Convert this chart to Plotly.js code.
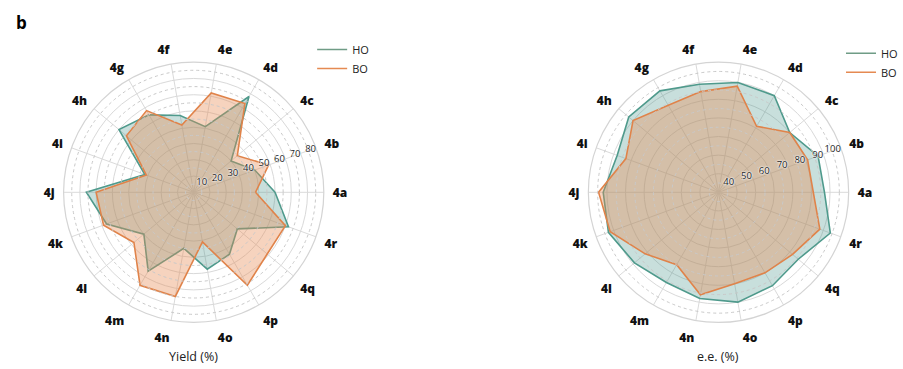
<!DOCTYPE html>
<html>
<head>
<meta charset="utf-8">
<script src="https://cdn.plot.ly/plotly-3.0.1.min.js"></script>
<style>html,body{margin:0;padding:0;background:#fff;}#chart{width:903px;height:369px;}</style>
</head>
<body>
<div id="chart"></div>
<script>
// Categories (counterclockwise from east)
const categories = ['4a','4b','4c','4d','4e','4f','4g','4h','4i','4j','4k','4l','4m','4n','4o','4p','4q','4r'];

// Yield (%)
const yieldHO = [50, 40, 30, 68, 41, 48, 55, 60, 32, 66, 57, 40, 56, 35, 48, 44, 35, 62];
const yieldBO = [38, 49, 35, 63, 62, 42, 58, 54, 31, 60, 59, 48, 66, 65, 31, 66, 59, 60];

// e.e. (%)
const eeHO = [87, 87, 80, 90, 90, 89, 93, 93, 88, 92, 93, 89, 86, 88, 90, 88, 86, 94];
const eeBO = [81, 81, 80, 71, 88, 85, 84, 90, 83, 94.5, 92, 81.5, 75, 86, 80, 80, 82, 88];

const yieldTicks = [10, 20, 30, 40, 50, 60, 70, 80];
const yieldMinor = [5, 15, 25, 35, 45, 55, 65, 75];
const eeTicks = [40, 50, 60, 70, 80, 90, 100];
const eeMinor = [35, 45, 55, 65, 75, 85, 95];

const seriesNames = ['HO', 'BO'];
const lineColors = ['#4f9a8c', '#e0834a'];
const legendColors = ['#6f9c86', '#e58a52'];
const fillColors = ['rgba(74,150,140,0.30)', 'rgba(232,140,85,0.38)'];

function closeLoop(a) { return a.concat([a[0]]); }

function polyTrace(vals, idx, subplot) {
  return {
    type: 'scatterpolar',
    r: closeLoop(vals),
    theta: closeLoop(categories),
    subplot: subplot,
    mode: 'lines',
    fill: 'toself',
    fillcolor: fillColors[idx],
    line: {color: lineColors[idx], width: 1.6},
    name: seriesNames[idx],
    showlegend: false,
    hoverinfo: 'skip'
  };
}
function legendTrace(idx, subplot, legend) {
  return {
    type: 'scatterpolar', r: [null], theta: [categories[0]], subplot: subplot,
    mode: 'lines', line: {color: legendColors[idx], width: 1.6},
    name: seriesNames[idx], legend: legend, showlegend: true, hoverinfo: 'skip'
  };
}

const traces = [
  polyTrace(yieldHO, 0, 'polar'),
  polyTrace(yieldBO, 1, 'polar'),
  polyTrace(eeHO, 0, 'polar3'),
  polyTrace(eeBO, 1, 'polar3'),
  legendTrace(0, 'polar', 'legend'),
  legendTrace(1, 'polar', 'legend'),
  legendTrace(0, 'polar3', 'legend2'),
  legendTrace(1, 'polar3', 'legend2'),
  {type: 'scatterpolar', r: [], theta: [], subplot: 'polar2', showlegend: false, mode: 'lines'},
  {type: 'scatterpolar', r: [], theta: [], subplot: 'polar4', showlegend: false, mode: 'lines'}
];

const FONT = 'Open Sans, Lato, sans-serif';
const domL = {x: [0.0709, 0.3610], y: [0.1238, 0.8339]};
const domR = {x: [0.6559, 0.9461], y: [0.1238, 0.8339]};
const RANGLE = 17;

function mainPolar(dom, range, ticks) {
  return {
    domain: dom,
    bgcolor: 'rgba(0,0,0,0)',
    angularaxis: {
      type: 'category', categoryarray: categories, direction: 'counterclockwise', rotation: 0,
      showline: true, linecolor: '#d4d4d4', linewidth: 1.2,
      showgrid: true, gridcolor: '#dadada', gridwidth: 1,
      ticks: 'outside', ticklen: 6, tickcolor: 'rgba(0,0,0,0)',
      tickfont: {family: FONT, size: 12, color: '#111', weight: 800}
    },
    radialaxis: {
      range: range, tickvals: ticks, ticktext: ticks.map(String),
      angle: RANGLE, tickangle: RANGLE, side: 'counterclockwise', showline: false, ticks: '',
      showgrid: true, gridcolor: '#d9d9d9', gridwidth: 1,
      tickfont: {family: FONT, size: 9.5, color: '#222', shadow: '0 0 2px #fff, 0 0 2px #fff, 0 0 1px #fff'},
      layer: 'above traces'
    }
  };
}
function overlayPolar(dom, range, minor) {
  return {
    domain: dom,
    bgcolor: 'rgba(0,0,0,0)',
    angularaxis: {type: 'category', categoryarray: categories, direction: 'counterclockwise', rotation: 0,
      showline: false, showgrid: false, showticklabels: false, ticks: ''},
    radialaxis: {range: range, tickvals: minor, showticklabels: false, showline: false, ticks: '',
      showgrid: true, gridcolor: '#c9c9c9', griddash: 'dot', gridwidth: 1}
  };
}

const layout = {
  width: 903, height: 369,
  margin: {l: 0, r: 0, t: 0, b: 0},
  paper_bgcolor: '#fff',
  showlegend: true,
  font: {family: FONT, color: '#111'},
  polar: mainPolar(domL, [0, 80], yieldTicks),
  polar2: overlayPolar(domL, [0, 80], yieldMinor),
  polar3: mainPolar(domR, [30, 100], eeTicks),
  polar4: overlayPolar(domR, [30, 100], eeMinor),
  legend: {x: 0.348, y: 0.905, xanchor: 'left', yanchor: 'top', bgcolor: 'rgba(0,0,0,0)',
    font: {family: FONT, size: 11, color: '#222'}, tracegroupgap: 0, itemwidth: 30},
  legend2: {x: 0.938, y: 0.895, xanchor: 'left', yanchor: 'top', bgcolor: 'rgba(0,0,0,0)',
    font: {family: FONT, size: 11, color: '#222'}, tracegroupgap: 0, itemwidth: 30},
  annotations: [
    {text: '<b>b</b>', x: 0.024, y: 0.94, xanchor: 'center', yanchor: 'middle', xref: 'paper', yref: 'paper',
      showarrow: false, font: {family: FONT, size: 17, color: '#000'}},
    {text: 'Yield (%)', x: (domL.x[0] + domL.x[1]) / 2, y: 0.035, xanchor: 'center', yanchor: 'middle',
      xref: 'paper', yref: 'paper', showarrow: false, font: {family: FONT, size: 12.5, color: '#222'}},
    {text: 'e.e. (%)', x: (domR.x[0] + domR.x[1]) / 2, y: 0.035, xanchor: 'center', yanchor: 'middle',
      xref: 'paper', yref: 'paper', showarrow: false, font: {family: FONT, size: 12.5, color: '#222'}}
  ]
};

Plotly.newPlot('chart', traces, layout, {displayModeBar: false, staticPlot: true});
</script>
</body>
</html>
